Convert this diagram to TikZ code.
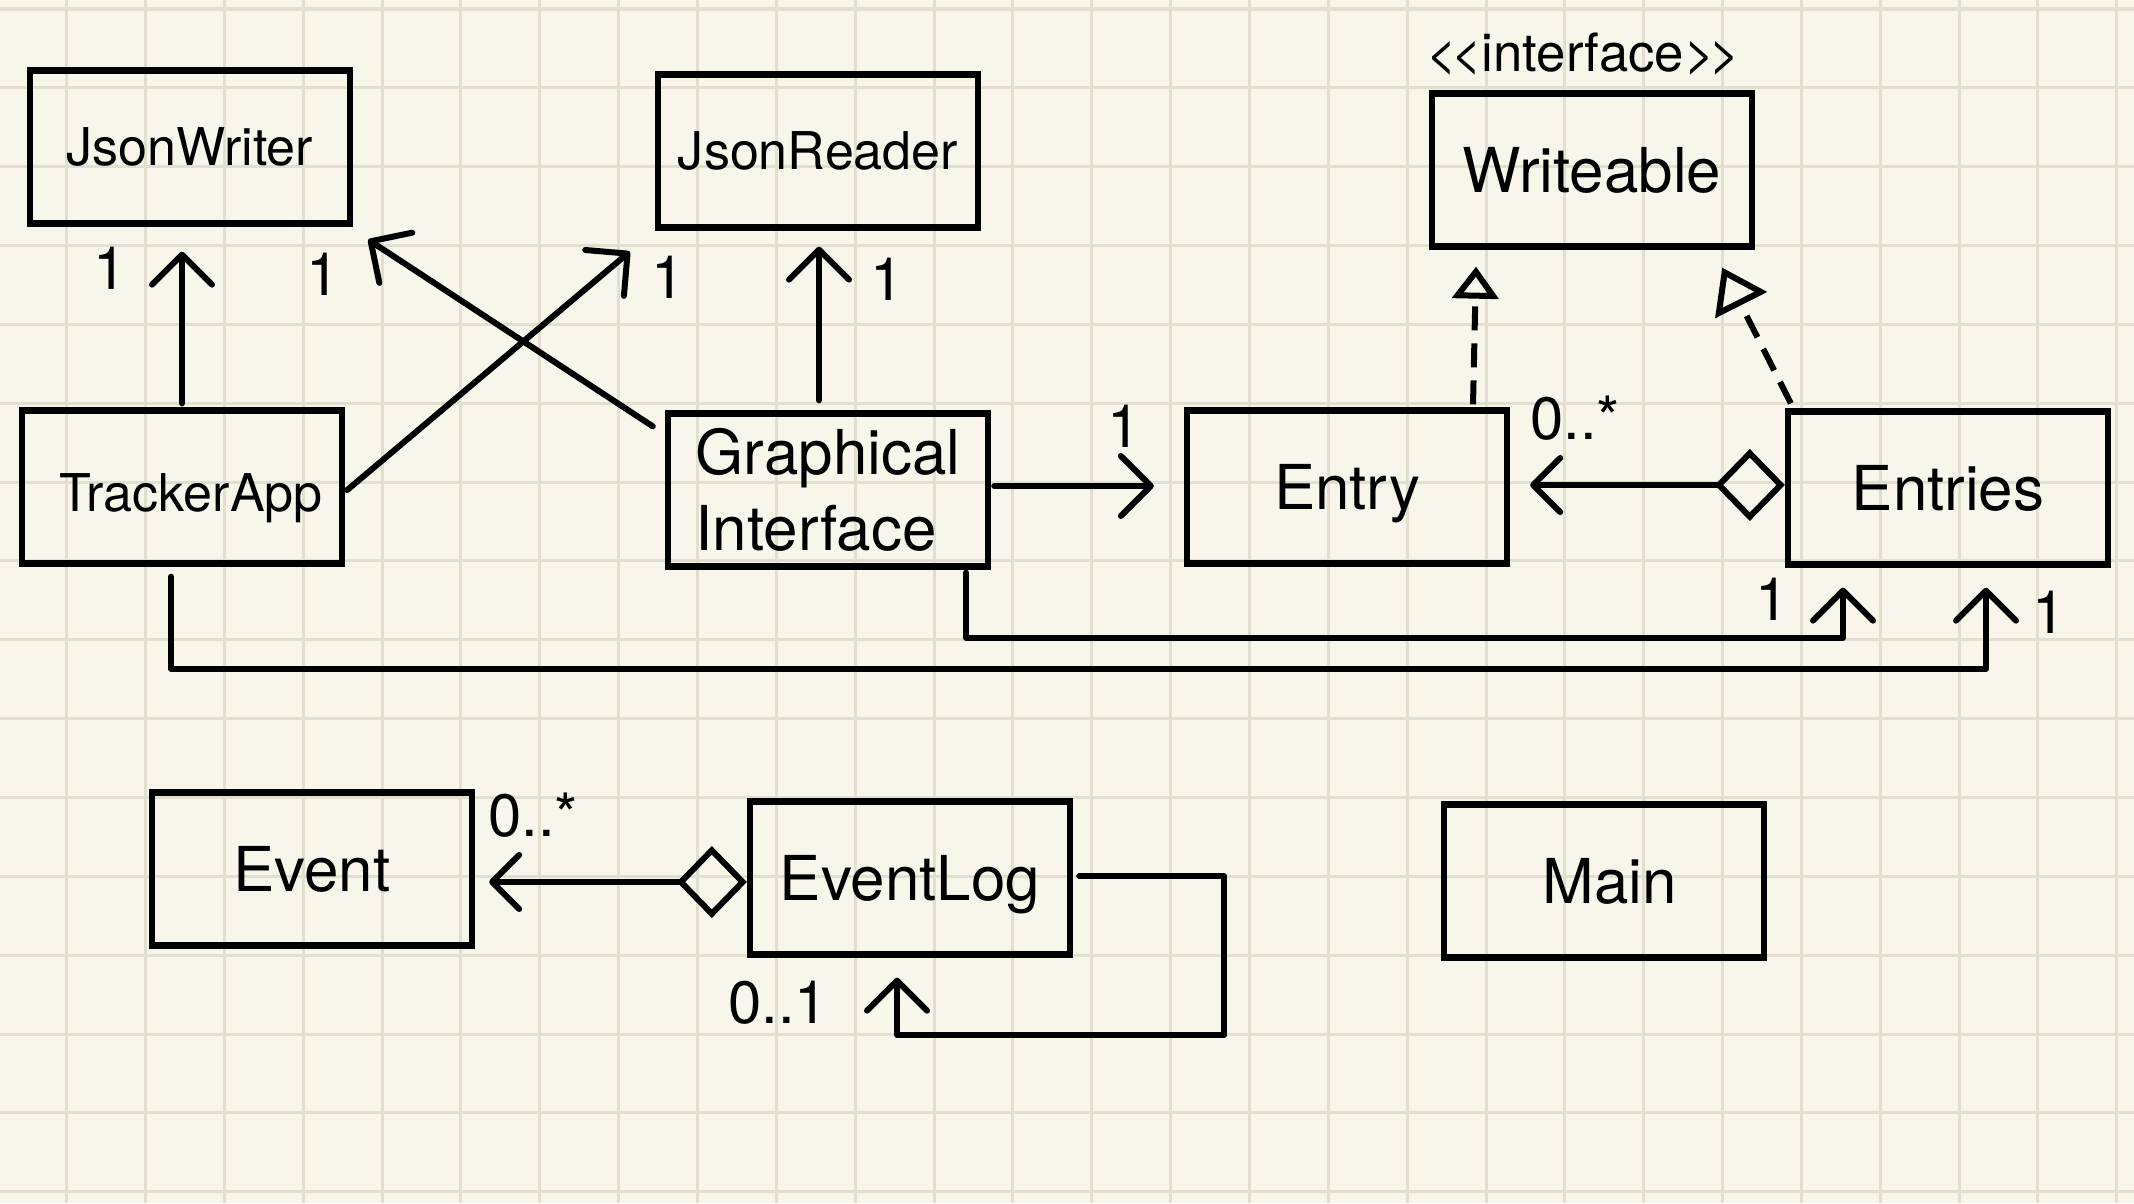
\documentclass[tikz,border=0pt]{standalone}
\usepackage{fontspec}
\setmainfont{TeX Gyre Heros}
\usetikzlibrary{arrows.meta,calc}
\definecolor{paper}{RGB}{248,246,234}
\definecolor{gridc}{RGB}{226,223,209}
\tikzset{
  gridl/.style={draw=gridc, line width=0.03cm},
  boxbase/.style={draw=black, line width=0.062cm, minimum width=3.2cm, minimum height=1.53cm, inner sep=0pt,
    font=\fontsize{17.6pt}{21.6pt}\selectfont},
  cls/.style={boxbase, text height=0.446cm, text depth=0pt},
  clss/.style={boxbase, font=\fontsize{14.8pt}{18pt}\selectfont, text height=0.374cm, text depth=0pt},
  mult/.style={inner sep=0pt, font=\fontsize{17pt}{20pt}\selectfont, text height=0.43cm, text depth=0pt},
  stereo/.style={inner sep=0pt, font=\fontsize{15pt}{18pt}\selectfont, text height=0.38cm, text depth=0pt},
  conn/.style={line width=0.06cm, line cap=round, line join=round},
  assoc/.style={conn, -{Straight Barb[round, length=0.3cm, width=0.6cm]}},
  aggr/.style={conn, {Diamond[open, length=0.7cm, width=0.72cm]}-{Straight Barb[round, length=0.27cm, width=0.54cm]}},
  real/.style={conn, line cap=butt, dash pattern=on 0.24cm off 0.13cm, -{Triangle[open, length=0.32cm, width=0.46cm]}}
}
\begin{document}
\begin{tikzpicture}[x=0.01cm, y=-0.01cm]
\useasboundingbox (0,0) rectangle (2134,1203);
\fill[paper] (0,0) rectangle (2134,1203);
\foreach \i in {0,...,26} \draw[gridl] ({66.7+78.85*\i},0) -- ({66.7+78.85*\i},1203);
\foreach \j in {0,...,15} \draw[gridl] (0,{9+78.85*\j}) -- (2134,{9+78.85*\j});

% classes
\node[clss] (jw) at (190,147) {JsonWriter};
\node[clss] (jr) at (818,151) {JsonReader};
\node[cls] (wr) at (1592,170) {Writeable};
\node[stereo] (st) at (1583,52) {<\kern-0.06cm<interface>\kern-0.06cm>};
\node[clss, text height=0.49cm] (ta) at (182,487) {\hspace*{0.18cm}TrackerApp};
\node[boxbase, align=left] (gi) at (828,490) {Graphical\\Interface};
\node[cls] (en) at (1347,487) {Entry};
\node[cls] (es) at (1948,488) {Entries};
\node[cls] (ev) at (312,869) {Event};
\node[cls] (el) at (910,878) {EventLog};
\node[cls] (mn) at (1604,881) {\hspace*{0.12cm}Main};

% multiplicities
\node[mult] (m1) at (110,268) {1};
\node[mult] (m2) at (323,274) {1};
\node[mult] (m3) at (668,277) {1};
\node[mult] (m4) at (887,279) {1};
\node[mult] (m5) at (1124,426) {1};
\node[mult] (m6) at (1575,418) {0..*};
\node[mult] (m7) at (1772,599) {1};
\node[mult] (m8) at (2049,612) {1};
\node[mult] (m9) at (533,815) {0..*};
\node[mult] (m10) at (778,1002) {0..1};

% connectors
\draw[assoc] ([shift={(0,-4)}]ta.north) -- ([shift={(-8,25)}]jw.south);
\draw[assoc] ([shift={(-12,16)}]gi.north west) -- ([shift={(15,13)}]jw.south east);
\draw[assoc] ([shift={(2,3)}]ta.east) -- ([shift={(-25,21)}]jr.south west);
\draw[assoc] ([shift={(-9,-10)}]gi.north) -- ([shift={(1,16)}]jr.south);
\draw[assoc] ([shift={(3,-4)}]gi.east) -- ([shift={(-30,-1)}]en.west);
\draw[aggr] ([shift={(0,-3)}]es.west) -- ([shift={(20,-2)}]en.east);
\draw[real] ([shift={(126,-3)}]en.north) -- ([shift={(-116,17)}]wr.south);
\draw[real, -{Triangle[open, length=0.42cm, width=0.57cm]}] ([shift={(6,-5)}]es.north west) -- ([shift={(-33,18)}]wr.south east);
\draw[assoc] ([shift={(138,3)}]gi.south) -- ++(0,65) -| ([shift={(-105,20)}]es.south);
\draw[assoc] ([shift={(-11,10)}]ta.south) -- ++(0,92) -| ([shift={(38,20)}]es.south);
\draw[aggr] ([shift={(0,4)}]el.west) -- ([shift={(14,13)}]ev.east);
\draw[assoc] ([shift={(6,-2)}]el.east) -- ++(145,0) -- ++(0,159) -| ([shift={(-13,20)}]el.south);
\end{tikzpicture}
\end{document}
